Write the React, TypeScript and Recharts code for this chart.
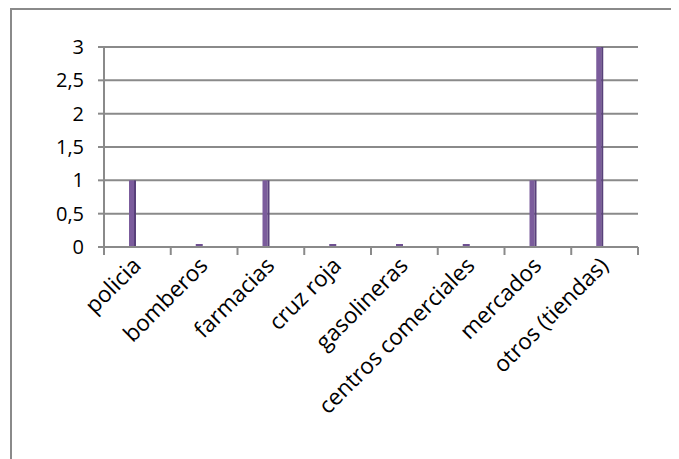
import { BarChart, Bar, XAxis, YAxis, CartesianGrid } from 'recharts';

const categories = [
  'policia',
  'bomberos',
  'farmacias',
  'cruz roja',
  'gasolineras',
  'centros comerciales',
  'mercados',
  'otros (tiendas)',
];
const values = [1, 0, 1, 0, 0, 0, 1, 3];
const yTicks = [0, 0.5, 1, 1.5, 2, 2.5, 3];

const data = categories.map((name, i) => ({ name, value: values[i] }));

const W = 667;
const H = 449;
const M = { top: 37, right: 41, bottom: 12, left: 12 };
const Y_WIDTH = 80;
const BAND = (W - M.left - M.right - Y_WIDTH) / categories.length;
const FONT = '"Open Sans", sans-serif';
const GRID = '#8a8a8a';

const XTick = (props: any) => {
  const { x, y, payload, index } = props;
  const left = x - BAND / 2;
  const tx = x + 5;
  const ty = y + 20;
  return (
    <g>
      <line x1={left} y1={y} x2={left} y2={y + 8} stroke={GRID} strokeWidth={2} />
      {index === categories.length - 1 && (
        <line x1={x + BAND / 2} y1={y} x2={x + BAND / 2} y2={y + 8} stroke={GRID} strokeWidth={2} />
      )}
      <text
        x={tx}
        y={ty}
        transform={`rotate(-45, ${tx}, ${ty})`}
        textAnchor='end'
        fontSize={22.5}
        fontFamily={FONT}
        fill='#000'
      >
        {payload.value}
      </text>
    </g>
  );
};

const Column = (props: any) => {
  const { x, y, width, height } = props;
  const bx = x - 5;
  if (!height || height < 1) {
    return <rect x={bx} y={y - 3} width={width} height={2.5} fill='#6f5192' />;
  }
  return (
    <g>
      <rect x={bx} y={y} width={width - 2} height={height} fill='#7b5c9c' />
      <rect x={bx + width - 2} y={y} width={2} height={height} fill='#58407a' />
    </g>
  );
};

const App = () => {
  return (
    <div
      style={{
        marginLeft: 2,
        width: W,
        height: H,
        borderLeft: `2px solid ${GRID}`,
        borderTop: `2px solid ${GRID}`,
        background: '#fff',
      }}
    >
      <BarChart width={W} height={H} data={data} margin={M} barSize={7}>
        <CartesianGrid vertical={false} stroke={GRID} strokeWidth={2} />
        <XAxis
          dataKey='name'
          interval={0}
          height={200}
          tickLine={false}
          tickSize={0}
          tickMargin={0}
          axisLine={{ stroke: GRID, strokeWidth: 2 }}
          tick={<XTick />}
        />
        <YAxis
          width={Y_WIDTH}
          domain={[0, 3]}
          ticks={yTicks}
          interval={0}
          tickSize={6}
          tickMargin={14}
          tickLine={{ stroke: GRID, strokeWidth: 2 }}
          axisLine={{ stroke: GRID, strokeWidth: 2 }}
          tickFormatter={(v: number) => String(v).replace('.', ',')}
          tick={{ fill: '#000', fontSize: 20, fontFamily: FONT }}
        />
        <Bar dataKey='value' shape={<Column />} isAnimationActive={false} />
      </BarChart>
    </div>
  );
};

export default App;
